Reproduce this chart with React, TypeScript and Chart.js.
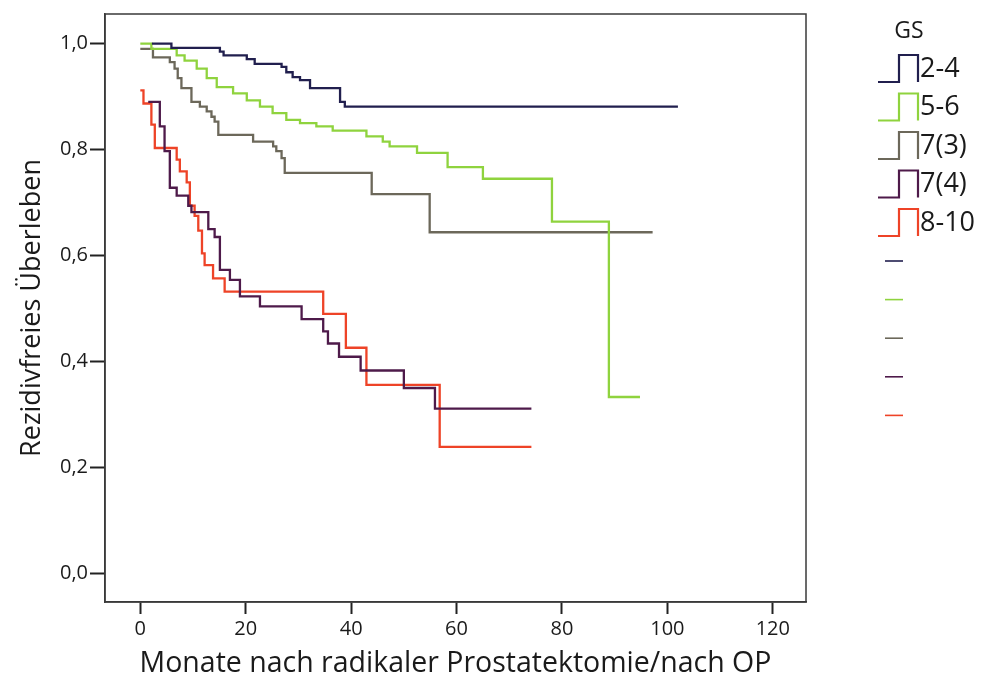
import React, { useEffect, useRef } from "react";
import { Chart, registerables } from "chart.js";

Chart.register(...registerables);

// ---- data ----
const groupLabels = ["2-4", "5-6", "7(3)", "7(4)", "8-10"];
const groupColors = ["#211f4e", "#8fd33e", "#6c685a", "#4e1a4a", "#ee4327"];

const gs24Months = [2.2, 5.9, 15.1, 15.8, 20.2, 21.7, 26.8, 27.7, 28.9, 30.3, 32.2, 37.9, 38.8, 102];
const gs24Surv = [1.0, 0.992, 0.985, 0.978, 0.971, 0.962, 0.956, 0.946, 0.937, 0.931, 0.916, 0.89, 0.881, 0.881];

const gs56Months = [0, 2.1, 6.9, 8.4, 10.7, 12.6, 14.5, 17.6, 20.2, 22.7, 25.1, 27.7, 30.3, 33.4, 36.5, 42.9, 46.0, 47.3, 52.5, 58.3, 65.0, 78.1, 88.9, 94.8];
const gs56Surv = [1.0, 0.99, 0.978, 0.968, 0.953, 0.935, 0.918, 0.906, 0.893, 0.881, 0.869, 0.856, 0.85, 0.844, 0.836, 0.825, 0.815, 0.806, 0.794, 0.767, 0.745, 0.664, 0.333, 0.333];

const gs73Months = [0, 2.4, 5.6, 6.5, 7.1, 7.8, 9.7, 11.3, 12.6, 13.5, 14.1, 14.8, 21.4, 25.2, 25.8, 26.8, 27.4, 43.9, 54.9, 97.2];
const gs73Surv = [0.99, 0.974, 0.965, 0.953, 0.935, 0.916, 0.89, 0.881, 0.872, 0.862, 0.853, 0.828, 0.815, 0.806, 0.797, 0.784, 0.756, 0.716, 0.644, 0.644];

const gs74Months = [1.5, 3.7, 4.6, 5.6, 6.9, 9.1, 9.7, 12.9, 14.1, 15.1, 17.0, 18.9, 22.7, 30.6, 34.7, 35.6, 37.7, 41.8, 50.0, 55.9, 74.2];
const gs74Surv = [0.89, 0.844, 0.797, 0.728, 0.713, 0.694, 0.682, 0.65, 0.635, 0.573, 0.554, 0.523, 0.504, 0.48, 0.457, 0.434, 0.409, 0.383, 0.35, 0.311, 0.311];

const gs810Months = [0, 0.6, 2.1, 2.75, 6.9, 7.5, 8.8, 9.4, 10.3, 11.0, 11.7, 12.2, 13.8, 16.0, 34.7, 39.0, 42.9, 56.8, 74.2];
const gs810Surv = [0.912, 0.887, 0.847, 0.803, 0.781, 0.759, 0.738, 0.694, 0.675, 0.647, 0.604, 0.582, 0.557, 0.532, 0.49, 0.426, 0.356, 0.239, 0.239];

const xTicks = [0, 20, 40, 60, 80, 100, 120];
const yTicks = [0, 0.2, 0.4, 0.6, 0.8, 1.0];
const yTickLabels = ["0,0", "0,2", "0,4", "0,6", "0,8", "1,0"];

const legendTitle = "GS";
const xTitle = "Monate nach radikaler Prostatektomie/nach OP";
const yTitle = "Rezidivfreies Überleben";

const seriesMonths = [gs24Months, gs56Months, gs73Months, gs74Months, gs810Months];
const seriesSurv = [gs24Surv, gs56Surv, gs73Surv, gs74Surv, gs810Surv];

const FONT = "'Open Sans', 'DejaVu Sans', sans-serif";

const boxPlugin = {
  id: "boxPlugin",
  afterDatasetsDraw(chart: any) {
    const { ctx, chartArea } = chart;
    ctx.save();
    ctx.strokeStyle = "#3a3a3a";
    ctx.lineWidth = 1.5;
    ctx.strokeRect(chartArea.left, chartArea.top, chartArea.right - chartArea.left, chartArea.bottom - chartArea.top);
    ctx.restore();
  },
};

const legendPlugin = {
  id: "kmLegend",
  afterDraw(chart: any) {
    const { ctx } = chart;
    const ds = chart.data.datasets;
    ctx.save();
    ctx.fillStyle = "#1a1a1a";
    ctx.font = `23px ${FONT}`;
    ctx.textAlign = "center";
    ctx.textBaseline = "middle";
    ctx.fillText(legendTitle, 909, 31);
    ctx.textAlign = "left";
    ctx.font = `27px ${FONT}`;
    ds.forEach((d: any, i: number) => {
      const yb = 82 + i * 38.5;
      ctx.strokeStyle = d.borderColor;
      ctx.lineWidth = 2.2;
      ctx.beginPath();
      ctx.moveTo(878, yb);
      ctx.lineTo(899, yb);
      ctx.lineTo(899, yb - 27);
      ctx.lineTo(918, yb - 27);
      ctx.lineTo(918, yb);
      ctx.stroke();
      ctx.fillStyle = "#1a1a1a";
      ctx.fillText(d.label, 920, yb - 13);
      const yc = 261 + i * 38.6;
      ctx.beginPath();
      ctx.lineWidth = 1.6;
      ctx.moveTo(885, yc);
      ctx.lineTo(903, yc);
      ctx.stroke();
    });
    ctx.restore();
  },
};

export default function App() {
  const ref = useRef<HTMLCanvasElement | null>(null);
  useEffect(() => {
    if (!ref.current) return;
    const datasets = groupLabels.map((label, i) => ({
      label,
      data: seriesMonths[i].map((m, j) => ({ x: m, y: seriesSurv[i][j] })),
      borderColor: groupColors[i],
      backgroundColor: groupColors[i],
      borderWidth: 2.3,
      pointRadius: 0,
      stepped: true as any,
      fill: false,
    }));
    const chart = new Chart(ref.current, {
      type: "line",
      data: { datasets },
      plugins: [boxPlugin, legendPlugin],
      options: {
        animation: false,
        responsive: false,
        devicePixelRatio: 1,
        layout: { padding: { left: 0, top: 8, right: 179, bottom: 0 } },
        plugins: { legend: { display: false }, tooltip: { enabled: false } },
        scales: {
          x: {
            type: "linear",
            min: -6.7,
            max: 126.3,
            afterBuildTicks: (axis: any) => {
              axis.ticks = xTicks.map((v) => ({ value: v }));
            },
            afterFit: (scale: any) => {
              scale.height = 81;
            },
            grid: { drawOnChartArea: false, drawTicks: true, tickLength: 12, tickWidth: 2, tickColor: "#222" },
            border: { display: true, color: "#3a3a3a", width: 1.5 },
            ticks: {
              color: "#1a1a1a",
              font: { family: FONT, size: 20 },
              padding: 3,
              maxRotation: 0,
              callback: (v: any) => String(v),
            },
            title: {
              display: true,
              text: xTitle,
              color: "#1a1a1a",
              font: { family: FONT, size: 28.5 },
              padding: { top: 0, bottom: 2 },
            },
          },
          y: {
            type: "linear",
            min: -0.054,
            max: 1.056,
            afterBuildTicks: (axis: any) => {
              axis.ticks = yTicks.map((v) => ({ value: v }));
            },
            afterFit: (scale: any) => {
              scale.width = 105;
            },
            grid: { drawOnChartArea: false, drawTicks: true, tickLength: 15, tickWidth: 2, tickColor: "#222" },
            border: { display: true, color: "#3a3a3a", width: 1.5 },
            ticks: {
              color: "#1a1a1a",
              font: { family: FONT, size: 20 },
              padding: 2,
              callback: (_v: any, idx: number) => yTickLabels[idx],
            },
            title: {
              display: true,
              text: yTitle,
              color: "#1a1a1a",
              font: { family: FONT, size: 27 },
              padding: { top: 16, bottom: 0 },
            },
          },
        },
      } as any,
    });
    return () => chart.destroy();
  }, []);
  return (
    <div style={{ position: "absolute", left: 0, top: 0, width: 985, height: 683, background: "#fff" }}>
      <canvas ref={ref} width={985} height={683} />
    </div>
  );
}
